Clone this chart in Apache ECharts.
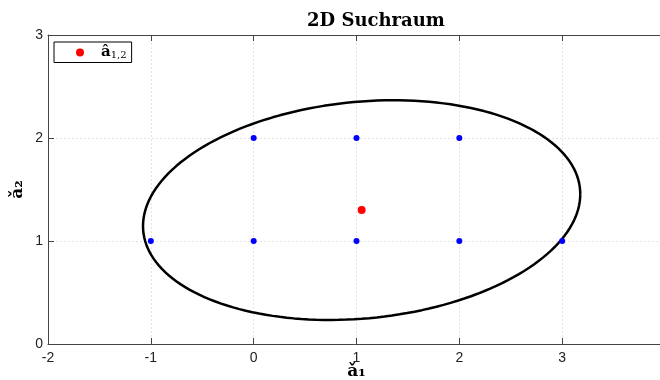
<!DOCTYPE html>
<html>
<head>
<meta charset="utf-8">
<script src="https://cdn.jsdelivr.net/npm/echarts@6/dist/echarts.min.js"></script>
<style>
  html, body { margin: 0; padding: 0; background: #fff; }
  #chart { width: 660px; height: 380px; }
</style>
</head>
<body>
<div id="chart"></div>
<script>
    // Gitterpunkte (blau) und Float-Loesung (rot)
    var gridX = [-1, 0, 1, 2, 3, 0, 1, 2];
    var gridY = [1, 1, 1, 1, 1, 2, 2, 2];
    var floatX = [1.05];
    var floatY = [1.30];
    // Suchraum-Ellipse: Mittelpunkt und Dreiecksfaktor der Form
    var ellipseCenter = [1.05, 1.30];
    var ellipseShape = [[2.126, 0], [0.155, 1.055]];
    var xTicks = [-2, -1, 0, 1, 2, 3, 4];
    var yTicks = [0, 1, 2, 3];

    var gridPts = [];
    for (var i = 0; i < gridX.length; i++) {
        gridPts.push([gridX[i], gridY[i]]);
    }
    var floatPts = [];
    for (var i = 0; i < floatX.length; i++) {
        floatPts.push([floatX[i], floatY[i]]);
    }
    var ellipsePts = [];
    var steps = 180;
    for (var k = 0; k <= steps; k++) {
        var t = 2 * Math.PI * k / steps;
        var c = Math.cos(t), s = Math.sin(t);
        ellipsePts.push([
            ellipseCenter[0] + ellipseShape[0][0] * c + ellipseShape[0][1] * s,
            ellipseCenter[1] + ellipseShape[1][0] * c + ellipseShape[1][1] * s
        ]);
    }

    var axisCol = '#444';
    var labelFont = {color: '#222', fontSize: 14, fontFamily: 'Liberation Sans'};
    var serif = 'DejaVu Serif';

    var myChart = echarts.init(document.getElementById('chart'));
    var option = {
        animation: false,
        backgroundColor: '#fff',
        title: {
            text: '2D Suchraum',
            left: 302,
            top: 7,
            textStyle: {fontFamily: serif, fontWeight: 'bold', fontSize: 18, color: '#000'}
        },
        legend: {
            left: 54,
            top: 42,
            orient: 'vertical',
            data: ['float'],
            backgroundColor: '#fff',
            borderColor: '#000',
            borderWidth: 1,
            borderRadius: 0,
            padding: [3, 5, 2, 22],
            itemWidth: 8,
            itemHeight: 8,
            itemGap: 4,
            formatter: function () { return '{a|â}{s|1,2}'; },
            textStyle: {
                rich: {
                    a: {fontFamily: serif, fontWeight: 'bold', fontSize: 15, color: '#000'},
                    s: {fontFamily: serif, fontSize: 10, color: '#000', padding: [6, 0, 0, 0]}
                },
                padding: [0, 0, 0, 12]
            }
        },
        grid: {left: 48, width: 617, top: 35, height: 309, outerBoundsMode: 'none', containLabel: false},
        xAxis: [{
            type: 'value',
            min: xTicks[0],
            max: xTicks[xTicks.length - 1],
            interval: 1,
            name: 'ǎ₁',
            nameLocation: 'middle',
            nameGap: 19,
            nameMoveOverlap: false,
            nameTextStyle: {fontFamily: serif, fontWeight: 'bold', fontSize: 17, color: '#000'},
            axisLine: {show: true, onZero: false, lineStyle: {color: axisCol, width: 1}},
            axisTick: {show: true, inside: true, length: 6, lineStyle: {color: axisCol}},
            axisLabel: Object.assign({margin: 7}, labelFont),
            splitLine: {show: true, lineStyle: {color: '#e4e4e4', type: [2, 2]}}
        }, {
            type: 'value',
            position: 'top',
            min: xTicks[0],
            max: xTicks[xTicks.length - 1],
            interval: 1,
            axisLine: {show: true, onZero: false, lineStyle: {color: axisCol, width: 1}},
            axisTick: {show: true, inside: true, length: 6, lineStyle: {color: axisCol}},
            axisLabel: {show: false},
            splitLine: {show: false}
        }],
        yAxis: [{
            type: 'value',
            min: yTicks[0],
            max: yTicks[yTicks.length - 1],
            interval: 1,
            name: 'ǎ₂',
            nameLocation: 'middle',
            nameGap: 22,
            nameMoveOverlap: false,
            nameTextStyle: {fontFamily: serif, fontWeight: 'bold', fontSize: 17, color: '#000'},
            axisLine: {show: true, onZero: false, lineStyle: {color: axisCol, width: 1}},
            axisTick: {show: true, inside: true, length: 6, lineStyle: {color: axisCol}},
            axisLabel: Object.assign({margin: 5}, labelFont),
            splitLine: {show: true, lineStyle: {color: '#e4e4e4', type: [2, 2]}}
        }],
        series: [{
            name: 'ellipse',
            type: 'line',
            data: ellipsePts,
            showSymbol: false,
            smooth: false,
            lineStyle: {color: '#000', width: 2.5},
            z: 2,
            silent: true
        }, {
            name: 'grid',
            type: 'scatter',
            data: gridPts,
            symbolSize: 6,
            itemStyle: {color: '#0000ff', opacity: 1},
            z: 3
        }, {
            name: 'float',
            type: 'scatter',
            data: floatPts,
            symbolSize: 8,
            itemStyle: {color: '#ff0000', opacity: 1},
            z: 4
        }]
    };
    myChart.setOption(option);
</script>
</body>
</html>
